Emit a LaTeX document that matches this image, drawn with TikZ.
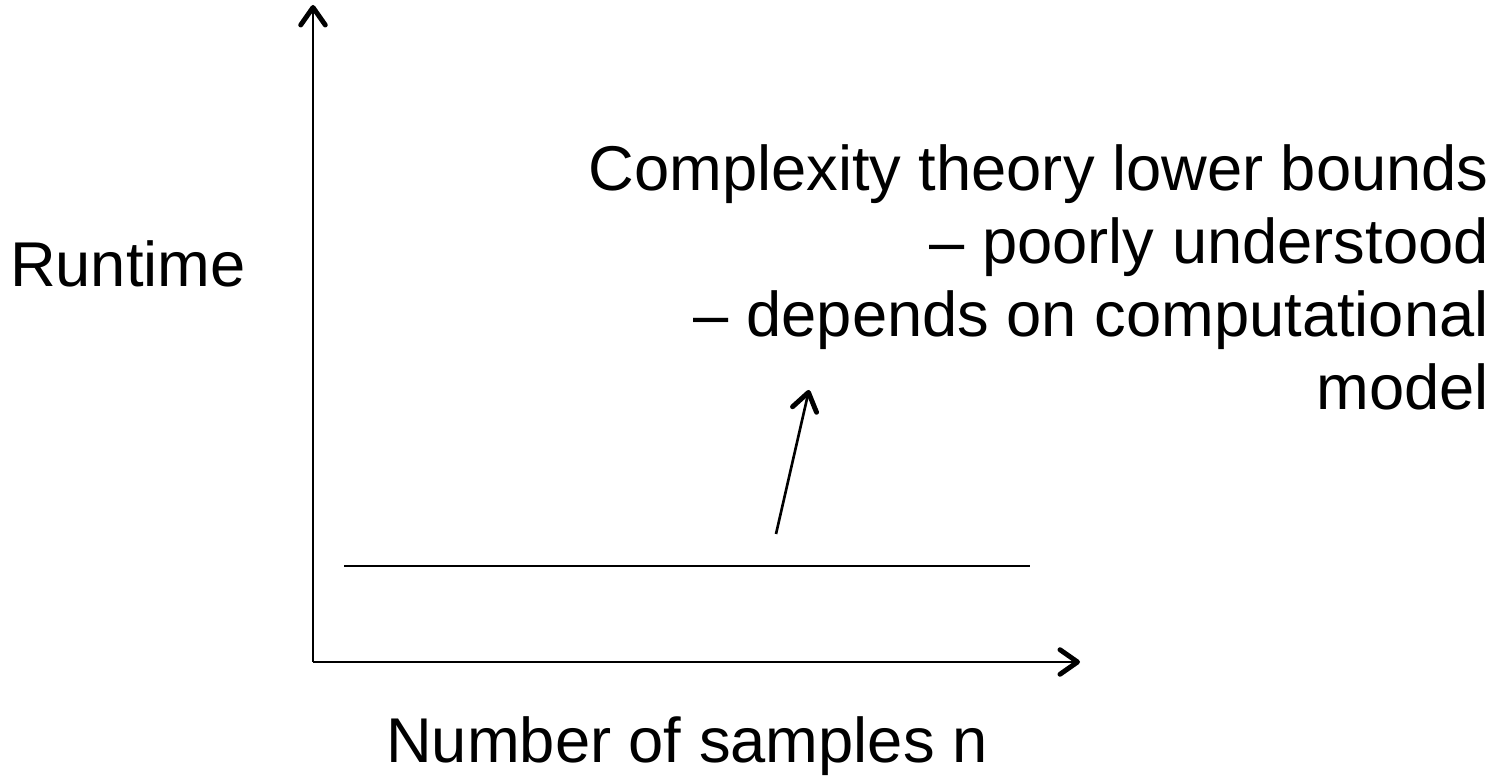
\documentclass[tikz,border=0pt]{standalone}
\usepackage{fontspec}
\setmainfont{Liberation Sans}
\usetikzlibrary{arrows.meta, positioning}

\begin{document}
\begin{tikzpicture}[>={Straight Barb[length=5pt, width=7pt, line width=1.4pt, round]},
  line width=0.75pt, font=\fontsize{18pt}{20.8pt}\selectfont]
  \useasboundingbox (0,0) rectangle (15.12,7.77);

  % Axes
  \coordinate (O) at (3.13,1.15);
  \coordinate (ytop) at (3.13,7.72);
  \coordinate (xend) at (10.80,1.15);
  \draw[->] (O) -- (ytop);
  \draw[->] (O) -- (xend);
  \node[anchor=base east, inner sep=0pt] (runtime) at (2.47,4.90) {Runtime};
  \node[anchor=base west, inner sep=0pt] (samples) at (3.85,0.14) {Number of samples n};

  % Flat runtime line
  \coordinate (flatL) at (3.44,2.11);
  \coordinate (flatR) at (10.30,2.11);
  \draw (flatL) -- (flatR);

  % Lower bound remark
  \node[anchor=base east, align=right, inner sep=0pt] (bounds) at (14.90,3.67)
    {Complexity theory lower bounds\\
     -- poorly understood\\
     -- depends on computational\\
     model};
  \coordinate (ptail) at (7.76,2.43);
  \coordinate (phead) at (8.09,3.87);
  \draw[->] (ptail) -- (phead);
\end{tikzpicture}
\end{document}
